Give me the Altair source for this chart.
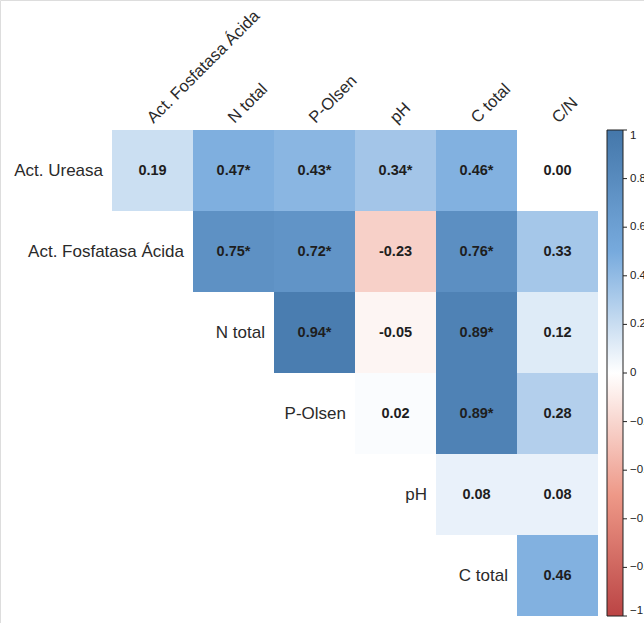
import altair as alt
import pandas as pd

# Correlation matrix (upper triangle) between soil enzyme activities and soil properties
row_names = ["Act. Ureasa", "Act. Fosfatasa Ácida", "N total", "P-Olsen", "pH", "C total"]
col_names = ["Act. Fosfatasa Ácida", "N total", "P-Olsen", "pH", "C total", "C/N"]

r_ureasa = [0.19, 0.47, 0.43, 0.34, 0.46, 0.00]
r_fosfatasa = [0.75, 0.72, -0.23, 0.76, 0.33]
r_ntotal = [0.94, -0.05, 0.89, 0.12]
r_polsen = [0.02, 0.89, 0.28]
r_ph = [0.08, 0.08]
r_ctotal = [0.46]

sig_ureasa = [False, True, True, True, True, False]
sig_fosfatasa = [True, True, False, True, False]
sig_ntotal = [True, False, True, False]
sig_polsen = [False, True, False]
sig_ph = [False, False]
sig_ctotal = [False]

legend_ticks = [1, 0.8, 0.6, 0.4, 0.2, 0, -0.2, -0.4, -0.6, -0.8, -1]

matrix_rows = [r_ureasa, r_fosfatasa, r_ntotal, r_polsen, r_ph, r_ctotal]
sig_rows = [sig_ureasa, sig_fosfatasa, sig_ntotal, sig_polsen, sig_ph, sig_ctotal]

cells = []
for i, (vals, sigs) in enumerate(zip(matrix_rows, sig_rows)):
    for k, (v, s) in enumerate(zip(vals, sigs)):
        j = i + k
        cells.append({
            "row": i, "col": j, "r": v,
            "label": f"{v:.2f}" + ("*" if s else ""),
        })
cells_df = pd.DataFrame(cells)
rows_df = pd.DataFrame({"name": row_names, "row": list(range(len(row_names)))})
cols_df = pd.DataFrame({"name": col_names, "col": list(range(len(col_names)))})
ticks_df = pd.DataFrame({"v": legend_ticks})

CELL = 81
W, H = 644, 623
X0, Y0 = 112, 130
x_scale = alt.Scale(domain=[-X0 / CELL, (W - X0) / CELL], nice=False, zero=False)
y_scale = alt.Scale(domain=[-Y0 / CELL, (H - Y0) / CELL], nice=False, zero=False, reverse=True)

color_scale = alt.Scale(
    domain=[-1, -0.5, 0, 0.5, 1],
    range=["#BB4444", "#EE9988", "#FFFFFF", "#77AADD", "#4477AA"],
    interpolate="rgb",
)

num_font = "Liberation Sans, Arial"
lab_font = "Liberation Sans, Arial"

tiles = alt.Chart(cells_df).transform_calculate(
    col2="datum.col + 1", row2="datum.row + 1"
).mark_rect(stroke=None).encode(
    x=alt.X("col:Q", scale=x_scale, axis=None),
    x2="col2:Q",
    y=alt.Y("row:Q", scale=y_scale, axis=None),
    y2="row2:Q",
    color=alt.Color(
        "r:Q",
        scale=color_scale,
        legend=alt.Legend(
            title=None,
            orient="none",
            legendX=607,
            legendY=130,
            direction="vertical",
            gradientLength=486,
            gradientThickness=16,
            gradientStrokeColor="#222222",
            gradientStrokeWidth=1,
            values=legend_ticks,
            format="~g",
            labelFontSize=11.5,
            labelFont=lab_font,
            labelColor="#222222",
            labelOffset=7,
            labelOverlap=False,
        ),
    ),
)

values_text = alt.Chart(cells_df).transform_calculate(
    cx="datum.col + 0.5", cy="datum.row + 0.5"
).mark_text(
    font=num_font, fontSize=14.5, fontWeight="bold", color="#1e1e1e",
    align="center", baseline="middle",
).encode(
    x=alt.X("cx:Q", scale=x_scale),
    y=alt.Y("cy:Q", scale=y_scale),
    text="label:N",
)

row_labels = alt.Chart(rows_df).transform_calculate(
    cy="datum.row + 0.5"
).mark_text(
    font=lab_font, fontSize=17, color="#2a2a2a",
    align="right", baseline="middle", dx=-9,
).encode(
    x=alt.X("row:Q", scale=x_scale),
    y=alt.Y("cy:Q", scale=y_scale),
    text="name:N",
)

col_labels = alt.Chart(cols_df).transform_calculate(
    cx="datum.col + 0.5", top="0"
).mark_text(
    font=lab_font, fontSize=16.5, color="#2a2a2a",
    align="left", baseline="alphabetic", angle=315, dx=5, dy=-3.5,
).encode(
    x=alt.X("cx:Q", scale=x_scale),
    y=alt.Y("top:Q", scale=y_scale),
    text="name:N",
)

# small tick marks to the right of the colour bar
legend_marks = alt.Chart(ticks_df).transform_calculate(
    ty="(1 - datum.v) * 3"
).mark_rule(color="#222222", strokeWidth=1).encode(
    x=alt.value(623),
    x2=alt.value(627),
    y=alt.Y("ty:Q", scale=y_scale),
)

chart = alt.layer(tiles, values_text, row_labels, col_labels, legend_marks).properties(
    width=W, height=H, padding=0, autosize=alt.AutoSizeParams(type="none"),
).configure_view(stroke=None).configure(background="white")

chart.save("out.html", embed_options={"renderer": "svg", "actions": False})
